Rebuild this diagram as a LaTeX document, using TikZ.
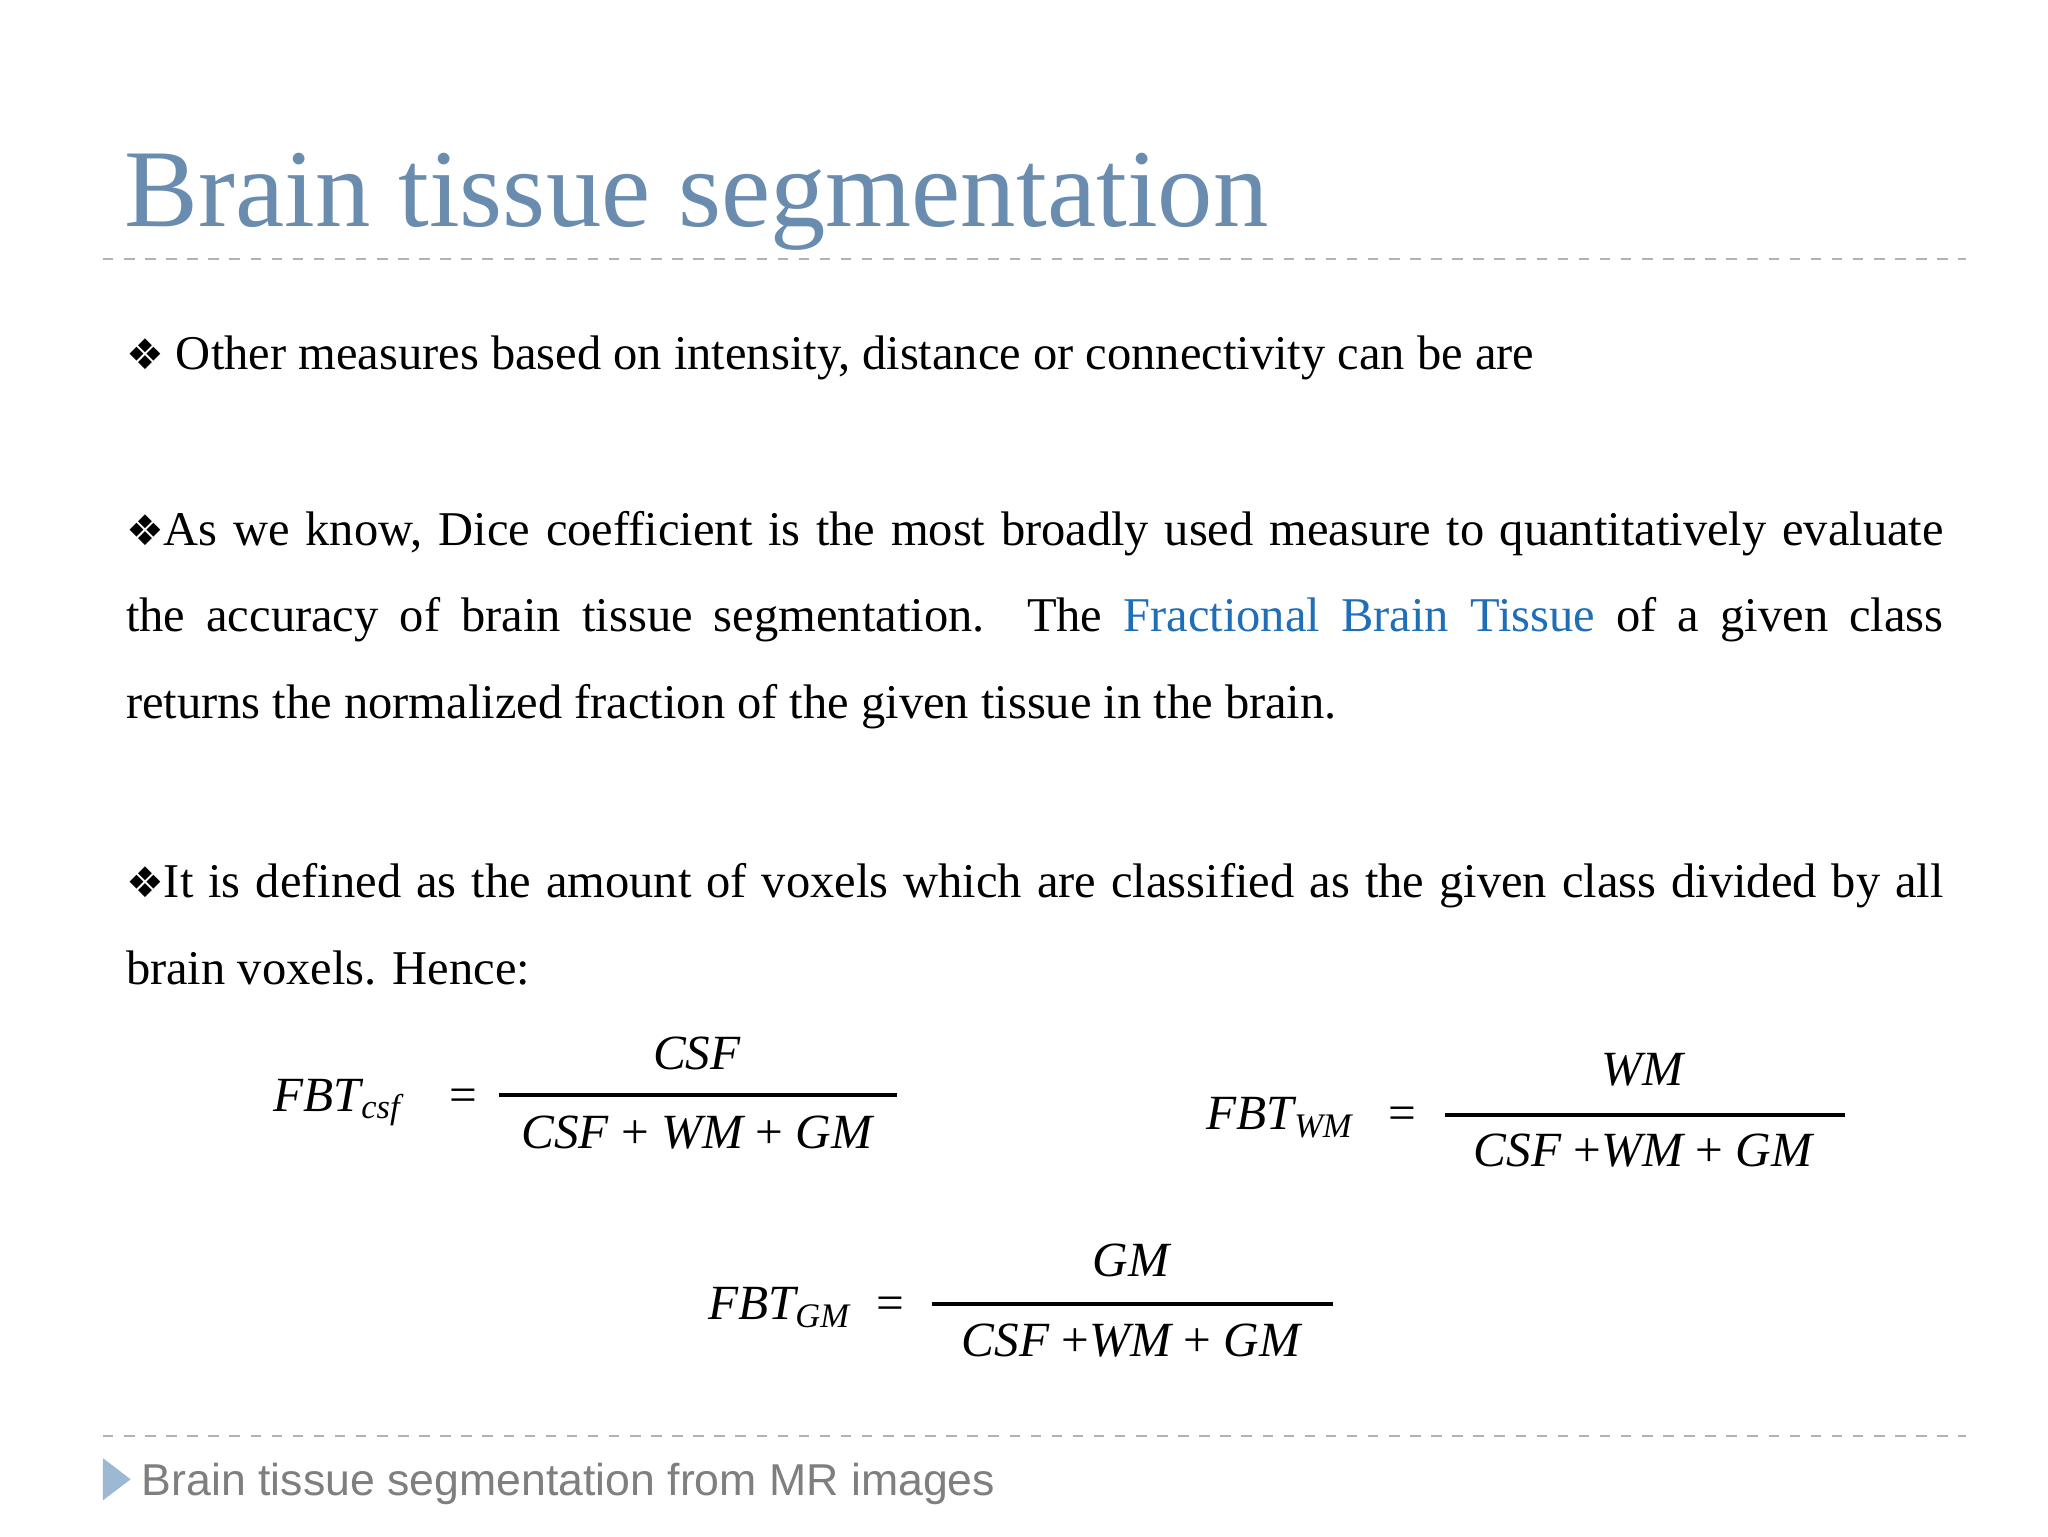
\documentclass[tikz,border=0pt]{standalone}
\usepackage{fontspec}
\setmainfont{Liberation Serif}
\newfontfamily\dejavu{DejaVu Sans}
\newfontfamily\arial{Liberation Sans}
\definecolor{titleblue}{HTML}{6A8CAE}
\definecolor{linkblue}{HTML}{1F6FB8}
\definecolor{footgray}{HTML}{7F7F7F}
\definecolor{triblue}{HTML}{9DB8D2}
\begin{document}
\begin{tikzpicture}[x=0.013196cm,y=-0.013196cm,
  body/.style={anchor=north west,inner sep=0pt,font=\fontsize{13.8}{24.7}\selectfont,text width=18.18cm,align=justify},
  dline/.style={draw=gray!60,dashed,line width=0.6pt},
  eq/.style={inner sep=0pt,font=\fontsize{14}{16}\selectfont\itshape}]
\useasboundingbox (0,0) rectangle (1552,1164);
\fill[white] (0,0) rectangle (1552,1164);
\node[anchor=base west,inner sep=0pt,text=titleblue,font=\fontsize{31.5}{36}\selectfont] (title) at (94,172) {Brain tissue segmentation};
\coordinate (l1a) at (78,196); \coordinate (l1b) at (1490,196);
\draw[dline] (l1a) -- (l1b);
\node[body,anchor=base west] (p1) at (95,280) {{\dejavu\fontsize{12}{12}\selectfont ❖} Other measures based on intensity, distance or connectivity can be are};
\node[body,anchor=base west] (p2) at (95,413) {{\dejavu\fontsize{12}{12}\selectfont ❖}As we know, Dice coefficient is the most broadly used measure to quantitatively evaluate\linebreak the accuracy of brain tissue segmentation.\ \ The \textcolor{linkblue}{Fractional Brain Tissue} of a given class\linebreak returns the normalized fraction of the given tissue in the brain.};
\node[body,anchor=base west] (p3) at (95,680) {{\dejavu\fontsize{12}{12}\selectfont ❖}It is defined as the amount of voxels which are classified as the given class divided by all brain voxels. Hence:};
% formulas
\node[eq,anchor=base west] (f1l) at (207,842) {FBT\textsubscript{csf}};
\node[eq,anchor=base west] (f1e) at (340,842) {\upshape =};
\node[eq] (f1n) at (528,798) {CSF};
\node[eq] (f1d) at (528,858) {CSF \upshape+\itshape\ WM \upshape+\itshape\ GM};
\coordinate (b1a) at (378,830); \coordinate (b1b) at (680,830);
\draw[line width=1.2pt] (b1a) -- (b1b);
\node[eq,anchor=base west] (f2l) at (914,856) {FBT\textsubscript{WM}};
\node[eq,anchor=base west] (f2e) at (1052,856) {\upshape =};
\node[eq] (f2n) at (1245,811) {WM};
\node[eq] (f2d) at (1245,872) {CSF \upshape+\itshape WM \upshape+\itshape\ GM};
\coordinate (b2a) at (1095,845); \coordinate (b2b) at (1398,845);
\draw[line width=1.2pt] (b2a) -- (b2b);
\node[eq,anchor=base west] (f3l) at (536,1000) {FBT\textsubscript{GM}};
\node[eq,anchor=base west] (f3e) at (664,1000) {\upshape =};
\node[eq] (f3n) at (857,955) {GM};
\node[eq] (f3d) at (857,1016) {CSF \upshape+\itshape WM \upshape+\itshape\ GM};
\coordinate (b3a) at (706,988); \coordinate (b3b) at (1010,988);
\draw[line width=1.2pt] (b3a) -- (b3b);
% footer
\coordinate (l2a) at (78,1088); \coordinate (l2b) at (1490,1088);
\draw[dline] (l2a) -- (l2b);
\coordinate (t1) at (78,1105); \coordinate (t2) at (78,1137); \coordinate (t3) at (99,1121);
\fill[triblue] (t1) -- (t2) -- (t3) -- cycle;
\node[anchor=base west,inner sep=0pt,text=footgray,font=\arial\fontsize{12.7}{14}\selectfont] (foot) at (107,1133) {Brain tissue segmentation from MR images};
\end{tikzpicture}
\end{document}
